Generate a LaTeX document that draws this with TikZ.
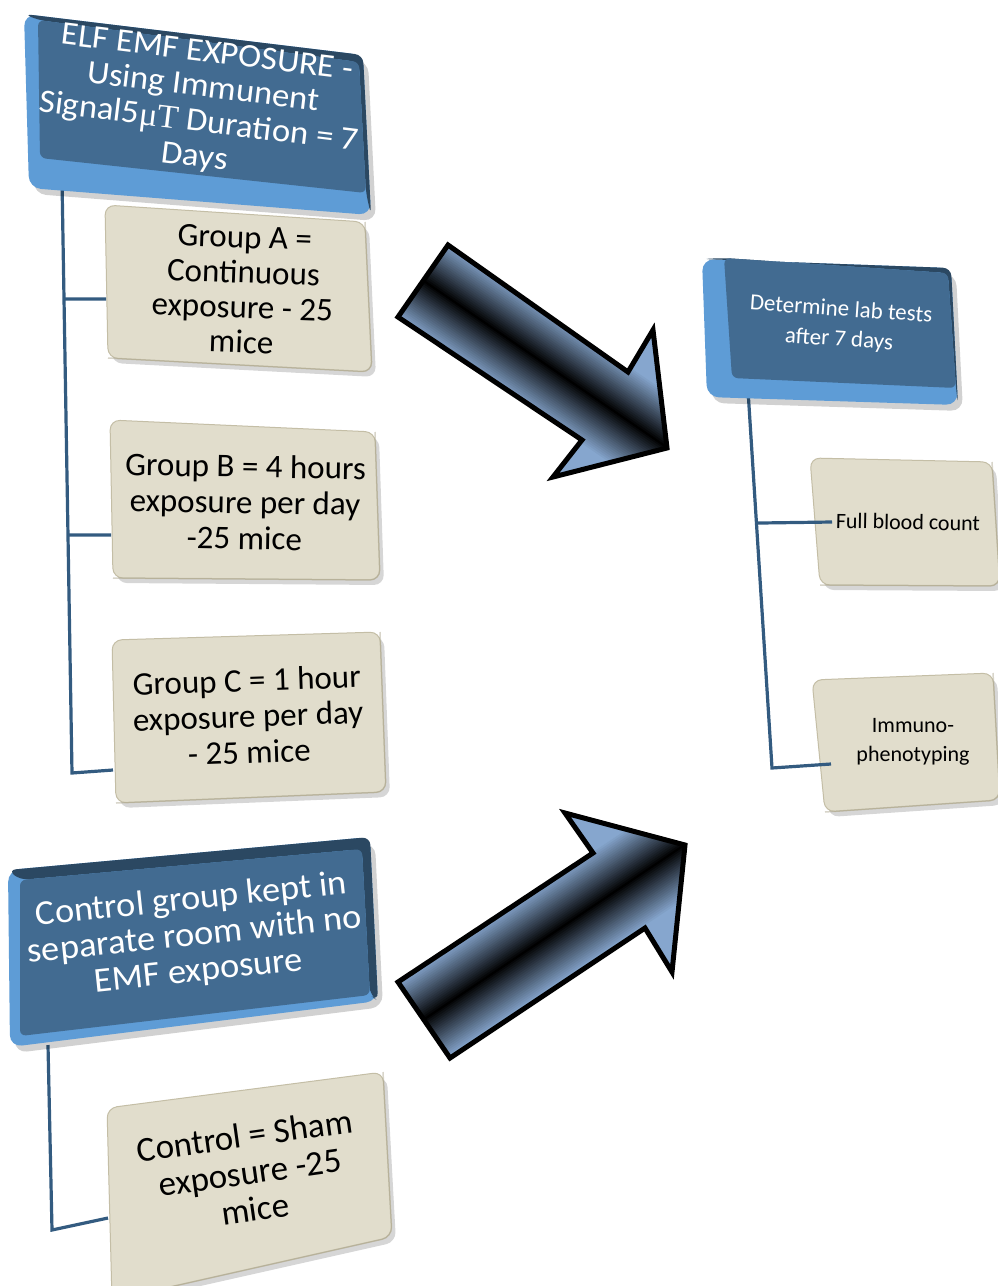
\documentclass[tikz,border=0pt]{standalone}
\usepackage{fontspec}
\setmainfont{Carlito}
\newfontfamily\serifsym{Liberation Serif}
\usetikzlibrary{calc}

\definecolor{faceblue}{HTML}{426B91}
\definecolor{bevellight}{HTML}{5E9CD6}
\definecolor{beveldark}{HTML}{2B4862}
\definecolor{beige}{HTML}{E1DDCC}
\definecolor{beigeedge}{HTML}{C4BEA6}
\definecolor{beigedeep}{HTML}{A9A38B}
\definecolor{linkblue}{HTML}{335B80}
\definecolor{arrowlight}{HTML}{86A6CE}

\tikzset{
  link/.style={draw=linkblue, line width=3.2pt, line join=miter},
  bluetext/.style={text=white, align=center, inner sep=0pt},
  beigetext/.style={text=black, align=center, inner sep=0pt},
  beigebox/.style={fill=beige, draw=beigeedge, line width=1pt, rounded corners=10pt},
  boxshadow/.style={fill=black, opacity=0.16, rounded corners=10pt},
  arrowrim/.style={draw=black, line width=5pt, line join=miter},
  centreline/.style={draw=black, line width=1pt},
}

% raised blue box: outline corners #1-#4, front face corners #5-#8
\newcommand\bevelbox[8]{%
  \fill[shift={(5,6)}, black, opacity=0.18, rounded corners=12pt] #1 -- #2 -- #3 -- #4 -- cycle;
  \fill[bevellight, rounded corners=12pt] #1 -- #2 -- #3 -- #4 -- cycle;
  \fill[beveldark, rounded corners=8pt] #1 -- #2 -- #3 -- #7 -- #6 -- #5 -- cycle;
  \fill[faceblue, rounded corners=6pt] #5 -- #6 -- #7 -- #8 -- cycle;
}
% flat beige card with a soft shadow and a darker lower rim
\newcommand\cardbox[4]{%
  \fill[boxshadow, shift={(4,5)}] #1 -- #2 -- #3 -- #4 -- cycle;
  \filldraw[beigebox] #1 -- #2 -- #3 -- #4 -- cycle;
  \draw[beigedeep, opacity=0.45, line width=1.5pt, rounded corners=10pt] #2 -- #3 -- #4;
}

\begin{document}
\begin{tikzpicture}[x=1pt, y=-1pt]
\useasboundingbox (0,0) rectangle (997,1286);
\fill[white] (0,0) rectangle (997,1286);

% ---------------- exposure tree ----------------
\coordinate (spineTop) at (62,180);
\coordinate (spineBot) at (72,773);
\coordinate (aIn) at (106,299);
\coordinate (bIn) at (111,535);
\coordinate (cIn) at (113,770);

\cardbox{(105,205)}{(365,222)}{(372,372)}{(108,358)}
\cardbox{(110,420)}{(375,432)}{(380,580)}{(113,578)}
\cardbox{(112,640)}{(380,632)}{(386,792)}{(116,803)}

\draw[link] (spineTop) -- (spineBot) -- (cIn);
\draw[link] ($(spineTop)!0.2007!(spineBot)$) -- (aIn);
\draw[link] ($(spineTop)!0.5987!(spineBot)$) -- (bIn);

\bevelbox{(24,14)}{(363,55)}{(371,215)}{(29,188)}{(38,20)}{(359,62)}{(366,193)}{(40,158)}

\node[bluetext, font=\fontsize{33}{35}\selectfont, rotate=-7, xscale=1.05] (elf) at (201,106)
  {ELF EMF EXPOSURE -\\Using Immunent\\Signal5{\serifsym μT} Duration = 7\\Days};

\node[beigetext, font=\fontsize{33}{35}\selectfont, rotate=-2] (grpA) at (243,290)
  {Group A =\\Continuous\\exposure - 25\\mice};
\node[beigetext, font=\fontsize{33}{36}\selectfont, rotate=-1] (grpB) at (245,502)
  {Group B = 4 hours\\exposure per day\\-25 mice};
\node[beigetext, font=\fontsize{33}{36}\selectfont, rotate=2] (grpC) at (248,716)
  {Group C = 1 hour\\exposure per day\\- 25 mice};

% ---------------- control tree ----------------
\coordinate (ctlTop) at (48,1045);
\coordinate (ctlBot) at (52,1230);
\coordinate (shamIn) at (108,1218);

\cardbox{(107,1108)}{(383,1072)}{(392,1237)}{(112,1300)}
\draw[link] (ctlTop) -- (ctlBot) -- (shamIn);

\bevelbox{(8,870)}{(370,837)}{(378,1001)}{(10,1047)}{(20,880)}{(362,849)}{(370,995)}{(20,1036)}

\node[bluetext, font=\fontsize{35}{36}\selectfont, rotate=6, xscale=1.04] (ctl) at (195,936)
  {Control group kept in\\separate room with no\\EMF exposure};
\node[beigetext, font=\fontsize{35}{37}\selectfont, rotate=8] (sham) at (250,1172)
  {Control = Sham\\exposure -25\\mice};

% ---------------- lab tests tree ----------------
\coordinate (labTop) at (748,390);
\coordinate (labBot) at (772,768);
\coordinate (fbcIn) at (832,522);
\coordinate (immIn) at (831,764);

\cardbox{(810,458)}{(992,462)}{(1000,586)}{(820,585)}
\cardbox{(812,680)}{(993,673)}{(1000,800)}{(825,812)}

\draw[link] (labTop) -- (labBot) -- (immIn);
\draw[link] ($(labTop)!0.352!(labBot)$) -- (fbcIn);

\bevelbox{(702,259)}{(951,268)}{(958,405)}{(707,397)}{(724,258)}{(948,273)}{(956,388)}{(732,378)}

\node[bluetext, font=\fontsize{23}{30}\selectfont, rotate=-4] (lab) at (840,325)
  {Determine lab tests\\after 7 days};
\node[beigetext, font=\fontsize{22}{28}\selectfont, rotate=-1] (fbc) at (908,522)
  {Full blood count};
\node[beigetext, font=\fontsize{22}{29}\selectfont] (imm) at (913,742)
  {Immuno-\\phenotyping};

% ---------------- block arrows ----------------
\begin{scope}
  \clip (448,245) -- (628,372) -- (653,330) -- (667,448) -- (553,477) -- (582,440) -- (398,317) -- cycle;
  \begin{scope}[shift={(423,281)}, rotate=-34.4]
    \foreach \v in {-108,-106,...,108} {
      \pgfmathsetmacro\p{min(100,abs(\v)/46*100)}
      \fill[arrowlight!\p!black] (-40,\v-1.6) rectangle (330,\v+1.6);
    }
  \end{scope}
\end{scope}
\coordinate (a1tail) at (423,281);
\coordinate (a1tip) at (667,448);
\draw[centreline] (a1tail) -- (a1tip);
\draw[arrowrim] (448,245) -- (628,372) -- (653,330) -- (667,448) -- (553,477) -- (582,440) -- (398,317) -- cycle;

\begin{scope}
  \clip (398,982) -- (593,853) -- (565,813) -- (685,845) -- (672,972) -- (645,928) -- (450,1058) -- cycle;
  \begin{scope}[shift={(424,1020)}, rotate=33.8]
    \foreach \v in {-108,-106,...,108} {
      \pgfmathsetmacro\p{min(100,abs(\v)/46*100)}
      \fill[arrowlight!\p!black] (-40,\v-1.6) rectangle (345,\v+1.6);
    }
  \end{scope}
\end{scope}
\coordinate (a2tail) at (424,1020);
\coordinate (a2tip) at (685,845);
\draw[centreline] (a2tail) -- (a2tip);
\draw[arrowrim] (398,982) -- (593,853) -- (565,813) -- (685,845) -- (672,972) -- (645,928) -- (450,1058) -- cycle;

\end{tikzpicture}
\end{document}
